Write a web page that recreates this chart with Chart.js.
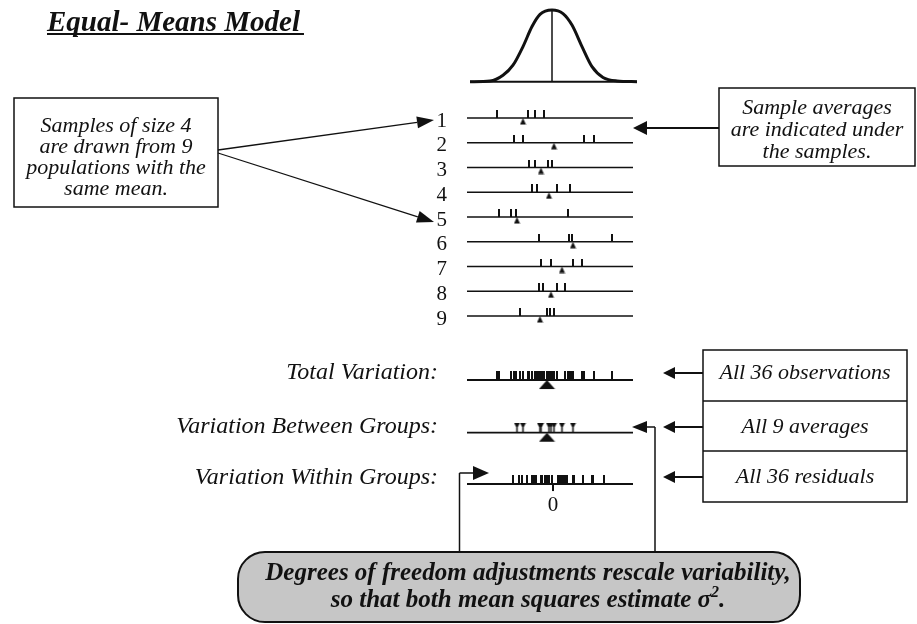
<!DOCTYPE html>
<html>
<head>
<meta charset="utf-8">
<script src="https://cdn.jsdelivr.net/npm/chart.js@4.4.0/dist/chart.umd.min.js"></script>
<style>
  html, body { margin: 0; padding: 0; background: #fff; }
  #wrap { width: 917px; height: 624px; }
</style>
</head>
<body>
<div id="wrap"><canvas id="anovaChart" width="917" height="624"></canvas></div>
<script>
// ==== data (x in arbitrary units, 0 = centre of the residual axis) ====
const rowLabels = ["1", "2", "3", "4", "5", "6", "7", "8", "9"];
const sample1 = [-5.6, -2.5, -1.8, -0.9];
const sample2 = [-3.9, -3.0, 3.1, 4.1];
const sample3 = [-2.4, -1.8, -0.5, -0.1];
const sample4 = [-2.1, -1.6, 0.4, 1.7];
const sample5 = [-5.4, -4.2, -3.7, 1.5];
const sample6 = [-1.4, 1.6, 1.9, 5.9];
const sample7 = [-1.2, -0.2, 2.0, 2.9];
const sample8 = [-1.4, -1.0, 0.4, 1.2];
const sample9 = [-3.3, -0.6, -0.3, 0.1];
const sampleAverages = [-3.0, 0.1, -1.2, -0.4, -3.6, 2.0, 0.9, -0.2, -1.3];
const grandMean = -0.6;

// population curve, relative height
const curveX = [-8.3, -6.3, -5.0, -4.0, -3.0, -2.1, -1.3, -0.1, 1.0, 1.9, 2.9, 3.9, 5.0, 6.4, 8.4];
const curveH = [0, 0.01, 0.09, 0.23, 0.49, 0.77, 0.94, 1.0, 0.95, 0.79, 0.49, 0.21, 0.06, 0.01, 0];
const populationMean = -0.1;

const titleText = "Equal- Means Model";
const leftNote = ["Samples of size 4", "are drawn from 9", "populations with the", "same mean."];
const rightNote = ["Sample averages", "are indicated under", "the samples."];
const summaryLabels = ["Total Variation:", "Variation Between Groups:", "Variation Within Groups:"];
const summaryNotes = ["All 36 observations", "All 9 averages", "All 36 residuals"];
const bubbleLine1 = "Degrees of freedom adjustments rescale variability,";
const bubbleLine2 = "so that both mean squares estimate \u03c3";

// ==== layout ====
const samples = [sample1, sample2, sample3, sample4, sample5, sample6, sample7, sample8, sample9];
const summaryRows = [11.586, 13.715, 15.788]; // total, between, within (row units)
const lineFrom = -8.6, lineTo = 8.0;
const SERIF = '"Liberation Serif", "Times New Roman", serif';
const INK = "#111";

const residuals = samples.map((s, i) => s.map(v => +(v - sampleAverages[i]).toFixed(2)));

function markImage(w, h, paint) {
  const c = document.createElement("canvas");
  c.width = w; c.height = h;
  const g = c.getContext("2d");
  g.fillStyle = INK;
  paint(g);
  return c;
}
const tickUp = markImage(2, 16, g => g.fillRect(0, 0, 2, 8));
const tickUpBold = markImage(2, 18, g => g.fillRect(0, 0, 2, 9));
const tickDown = markImage(2, 16, g => g.fillRect(0, 8, 2, 7));
const triSmall = markImage(7, 14, g => {
  g.beginPath(); g.moveTo(3.5, 7); g.lineTo(6.5, 13.5); g.lineTo(0.5, 13.5); g.closePath(); g.fill();
});
const triBig = markImage(17, 20, g => {
  g.beginPath(); g.moveTo(8.5, 10); g.lineTo(16.5, 19); g.lineTo(0.5, 19); g.closePath(); g.fill();
});
const pinDown = markImage(7, 20, g => {
  g.beginPath(); g.moveTo(0.5, 0); g.lineTo(6.5, 0); g.lineTo(3.5, 6); g.closePath(); g.fill();
  g.fillRect(2.75, 5, 1.5, 5);
});

function rowLine(y, width) {
  return {
    data: [{ x: lineFrom, y }, { x: lineTo, y }],
    showLine: true, borderColor: INK, borderWidth: width, pointRadius: 0, clip: false
  };
}
function marks(points, img) {
  return { data: points, pointStyle: img, pointRadius: 3, borderWidth: 0, clip: false, showLine: false };
}

const datasets = [];
// population curve
datasets.push({
  data: curveX.map((x, i) => ({ x, y: curveH[i] })), yAxisID: "yCurve",
  showLine: true, borderColor: INK, borderWidth: 3, pointRadius: 0,
  cubicInterpolationMode: "monotone", clip: false
});
datasets.push({
  data: [{ x: curveX[0], y: 0 }, { x: curveX[curveX.length - 1], y: 0 }], yAxisID: "yCurve",
  showLine: true, borderColor: INK, borderWidth: 2, pointRadius: 0, clip: false
});
datasets.push({
  data: [{ x: populationMean, y: 0 }, { x: populationMean, y: 1 }], yAxisID: "yCurve",
  showLine: true, borderColor: INK, borderWidth: 1.5, pointRadius: 0, clip: false
});
// baselines
rowLabels.forEach((_, i) => datasets.push(rowLine(i + 1, 1.6)));
summaryRows.forEach(r => datasets.push(rowLine(r, 1.8)));
// the nine samples and their averages
datasets.push(marks(samples.flatMap((s, i) => s.map(v => ({ x: v, y: i + 1 }))), tickUp));
datasets.push(marks(sampleAverages.map((v, i) => ({ x: v, y: i + 1 })), triSmall));
// total variation: all 36 observations
datasets.push(marks(samples.flat().map(v => ({ x: v, y: summaryRows[0] })), tickUpBold));
datasets.push(marks([{ x: grandMean, y: summaryRows[0] }], triBig));
// between groups: the 9 averages
datasets.push(marks(sampleAverages.map(v => ({ x: v, y: summaryRows[1] })), pinDown));
datasets.push(marks([{ x: grandMean, y: summaryRows[1] }], triBig));
// within groups: the 36 residuals
datasets.push(marks(residuals.flat().map(v => ({ x: v, y: summaryRows[2] })), tickUpBold));
datasets.push(marks([{ x: 0, y: summaryRows[2] }], tickDown));

function arrow(ctx, x0, y0, x1, y1, head, half) {
  const a = Math.atan2(y1 - y0, x1 - x0);
  const bx = x1 - head * Math.cos(a), by = y1 - head * Math.sin(a);
  ctx.beginPath(); ctx.moveTo(x0, y0); ctx.lineTo(bx, by); ctx.stroke();
  ctx.beginPath();
  ctx.moveTo(x1, y1);
  ctx.lineTo(bx - half * Math.sin(a), by + half * Math.cos(a));
  ctx.lineTo(bx + half * Math.sin(a), by - half * Math.cos(a));
  ctx.closePath(); ctx.fill();
}

function roundRect(ctx, x, y, w, h, r) {
  ctx.beginPath();
  ctx.moveTo(x + r, y);
  ctx.lineTo(x + w - r, y); ctx.arcTo(x + w, y, x + w, y + r, r);
  ctx.lineTo(x + w, y + h - r); ctx.arcTo(x + w, y + h, x + w - r, y + h, r);
  ctx.lineTo(x + r, y + h); ctx.arcTo(x, y + h, x, y + h - r, r);
  ctx.lineTo(x, y + r); ctx.arcTo(x, y, x + r, y, r);
  ctx.closePath();
}

// ==== notes, boxes and arrows around the plot ====
const notesPlugin = {
  id: "notes",
  afterDraw(chart) {
    const ctx = chart.ctx;
    const xs = chart.scales.x, ys = chart.scales.y;
    ctx.save();
    ctx.fillStyle = INK; ctx.strokeStyle = INK;

    // title
    ctx.font = `italic bold 29px ${SERIF}`;
    ctx.textAlign = "left"; ctx.textBaseline = "alphabetic";
    ctx.fillText(titleText, 47, 31);
    ctx.fillRect(47, 33, ctx.measureText(titleText).width + 4, 2);

    // row numbers (sample index)
    ctx.font = `21px ${SERIF}`;
    ctx.textAlign = "right"; ctx.textBaseline = "middle";
    rowLabels.forEach((t, i) => ctx.fillText(t, 447, ys.getPixelForValue(i + 1) + 3));

    // left note box
    ctx.lineWidth = 1.5;
    ctx.strokeRect(14, 98, 204, 109);
    ctx.font = `italic 22px ${SERIF}`;
    ctx.textAlign = "center";
    leftNote.forEach((t, i) => ctx.fillText(t, 116, 126 + i * 21));
    ctx.lineWidth = 1.3;
    arrow(ctx, 218, 150, 434, ys.getPixelForValue(1) + 2, 17, 6);
    arrow(ctx, 218, 153, 434, ys.getPixelForValue(5) + 5, 17, 6);

    // right note box
    ctx.lineWidth = 1.5;
    ctx.strokeRect(719, 88, 196, 78);
    ctx.font = `italic 22px ${SERIF}`;
    rightNote.forEach((t, i) => ctx.fillText(t, 817, 108 + i * 22));
    ctx.lineWidth = 2;
    arrow(ctx, 719, 128, xs.right, 128, 14, 7);

    // summary labels
    ctx.font = `italic 24px ${SERIF}`;
    ctx.textAlign = "right";
    const labelY = [373, 427, 478];
    summaryLabels.forEach((t, i) => ctx.fillText(t, 438, labelY[i]));

    // stacked boxes on the right
    ctx.lineWidth = 1.5;
    ctx.strokeRect(703, 350, 204, 152);
    [401, 451].forEach(y => { ctx.beginPath(); ctx.moveTo(703, y); ctx.lineTo(907, y); ctx.stroke(); });
    ctx.font = `italic 22px ${SERIF}`;
    ctx.textAlign = "center";
    const noteY = [373, 427, 477];
    summaryNotes.forEach((t, i) => {
      ctx.fillText(t, 805, noteY[i]);
      ctx.lineWidth = 2;
      arrow(ctx, 703, noteY[i], 663, noteY[i], 12, 6);
    });

    // zero label under residual axis
    const x0 = xs.getPixelForValue(0);
    ctx.font = `21px ${SERIF}`;
    ctx.fillText("0", x0, 505);

    // connectors to the bubble
    ctx.lineWidth = 1.5;
    ctx.beginPath(); ctx.moveTo(655, 552); ctx.lineTo(655, 427); ctx.stroke();
    arrow(ctx, 655, 427, xs.right - 1, 427, 15, 6);
    ctx.beginPath(); ctx.moveTo(459.5, 552); ctx.lineTo(459.5, 473); ctx.stroke();
    arrow(ctx, 459.5, 473, 489, 473, 16, 7);

    // bubble
    roundRect(ctx, 238, 552, 562, 70, 27);
    ctx.fillStyle = "#c6c6c6"; ctx.fill();
    ctx.lineWidth = 2; ctx.stroke();
    ctx.fillStyle = INK;
    ctx.font = `italic bold 25px ${SERIF}`;
    ctx.textBaseline = "alphabetic";
    ctx.fillText(bubbleLine1, 528, 580);
    const w2 = ctx.measureText(bubbleLine2).width;
    ctx.font = `italic bold 16px ${SERIF}`;
    const wSup = ctx.measureText("2").width;
    ctx.font = `italic bold 25px ${SERIF}`;
    const wDot = ctx.measureText(".").width;
    const start = 528 - (w2 + wSup + wDot) / 2;
    ctx.textAlign = "left";
    ctx.fillText(bubbleLine2, start, 607);
    ctx.font = `italic bold 16px ${SERIF}`;
    ctx.fillText("2", start + w2, 597);
    ctx.font = `italic bold 25px ${SERIF}`;
    ctx.fillText(".", start + w2 + wSup, 607);

    ctx.restore();
  }
};

new Chart(document.getElementById("anovaChart").getContext("2d"), {
  type: "scatter",
  data: { datasets },
  options: {
    responsive: false,
    animation: false,
    events: [],
    layout: { padding: { left: 467, right: 284, top: 0, bottom: 0 }, autoPadding: false },
    plugins: { legend: { display: false }, tooltip: { enabled: false } },
    scales: {
      x: { type: "linear", display: false, min: lineFrom, max: lineTo },
      y: { type: "linear", display: false, reverse: true, min: -3.7677, max: 21.4444 },
      yCurve: { type: "linear", display: false, min: -7.563, max: 1.1395 }
    }
  },
  plugins: [notesPlugin]
});
</script>
</body>
</html>
